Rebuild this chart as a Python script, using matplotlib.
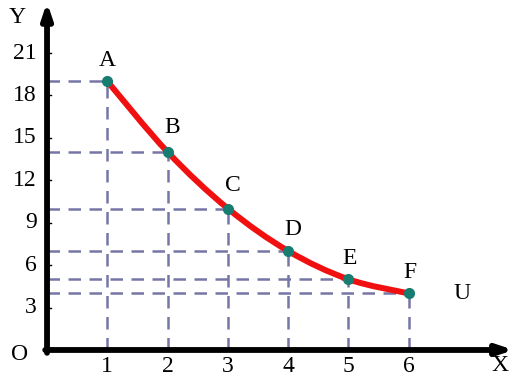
import matplotlib
matplotlib.use("Agg")
import matplotlib.pyplot as plt
from matplotlib.path import Path
from matplotlib.patches import PathPatch
import numpy as np

labels = ["A", "B", "C", "D", "E", "F"]
x_vals = [1, 2, 3, 4, 5, 6]
y_vals = [19, 14, 10, 7, 5, 4]
x_ticks = [1, 2, 3, 4, 5, 6]
y_ticks = [3, 6, 9, 12, 15, 18, 21]
curve_name = "U"

plt.rcParams['font.family'] = ['Liberation Serif', 'DejaVu Serif']

fig = plt.figure(figsize=(5.14, 3.76), dpi=100)
ax = fig.add_axes([0, 0, 1, 1])
ax.set_xlim(-0.78, 7.745)
ax.set_ylim(-1.84, 24.75)
ax.axis('off')

dash_col = '#7676a6'
ls = (0, (5.0, 3.4))
for xv, yv in zip(x_vals, y_vals):
    ax.plot([0, xv], [yv, yv], color=dash_col, lw=1.8, linestyle=ls, zorder=1)
    ax.plot([xv, xv], [0, yv], color=dash_col, lw=1.8, linestyle=ls, zorder=1)

# smooth curve through the points (Catmull-Rom as cubic Bezier path)
pts = np.column_stack([x_vals, y_vals]).astype(float)
verts = [tuple(pts[0])]
codes = [Path.MOVETO]
n = len(pts)
for i in range(n - 1):
    p0 = pts[i - 1] if i > 0 else pts[i]
    p1 = pts[i]
    p2 = pts[i + 1]
    p3 = pts[i + 2] if i + 2 < n else pts[i + 1]
    c1 = p1 + (p2 - p0) / 6.0
    c2 = p2 - (p3 - p1) / 6.0
    verts += [tuple(c1), tuple(c2), tuple(p2)]
    codes += [Path.CURVE4] * 3
ax.add_patch(PathPatch(Path(verts, codes), facecolor='none', edgecolor='#f01010',
                       lw=4.3, capstyle='round', zorder=3))

ax.plot(x_vals, y_vals, 'o', color='#177d70', markersize=7, zorder=4)

# axes with arrows
ax.annotate('', xy=(7.74, 0), xytext=(-0.03, 0),
            arrowprops=dict(arrowstyle='-|>,head_length=0.9,head_width=0.3',
                            lw=4.2, color='black', shrinkA=0, shrinkB=0), zorder=5)
ax.annotate('', xy=(0, 24.6), xytext=(0, -0.2),
            arrowprops=dict(arrowstyle='-|>,head_length=0.9,head_width=0.3',
                            lw=4.2, color='black', shrinkA=0, shrinkB=0), zorder=5)

fs = 17
for t in y_ticks:
    ax.plot([0, 0.07], [t, t], color='black', lw=1.0, zorder=5)
    ax.text(-0.17, t, str(t), ha='right', va='center', fontsize=fs)
for t in x_ticks:
    ax.text(t, -1.15, str(t), ha='center', va='center', fontsize=fs)

ax.text(-0.5, 23.5, 'Y', ha='center', va='center', fontsize=fs)
ax.text(-0.45, -0.3, 'O', ha='center', va='center', fontsize=fs)
ax.text(7.51, -1.1, 'X', ha='center', va='center', fontsize=fs)

offsets = [(0.0, 1.45), (0.07, 1.7), (0.08, 1.6), (0.08, 1.55), (0.02, 1.5), (0.02, 1.5)]
for lab, xv, yv, (dx, dy) in zip(labels, x_vals, y_vals, offsets):
    ax.text(xv + dx, yv + dy, lab, ha='center', va='center', fontsize=fs)
ax.text(6.88, 3.96, curve_name, ha='center', va='center', fontsize=fs)

fig.savefig('out.png', dpi=100)
